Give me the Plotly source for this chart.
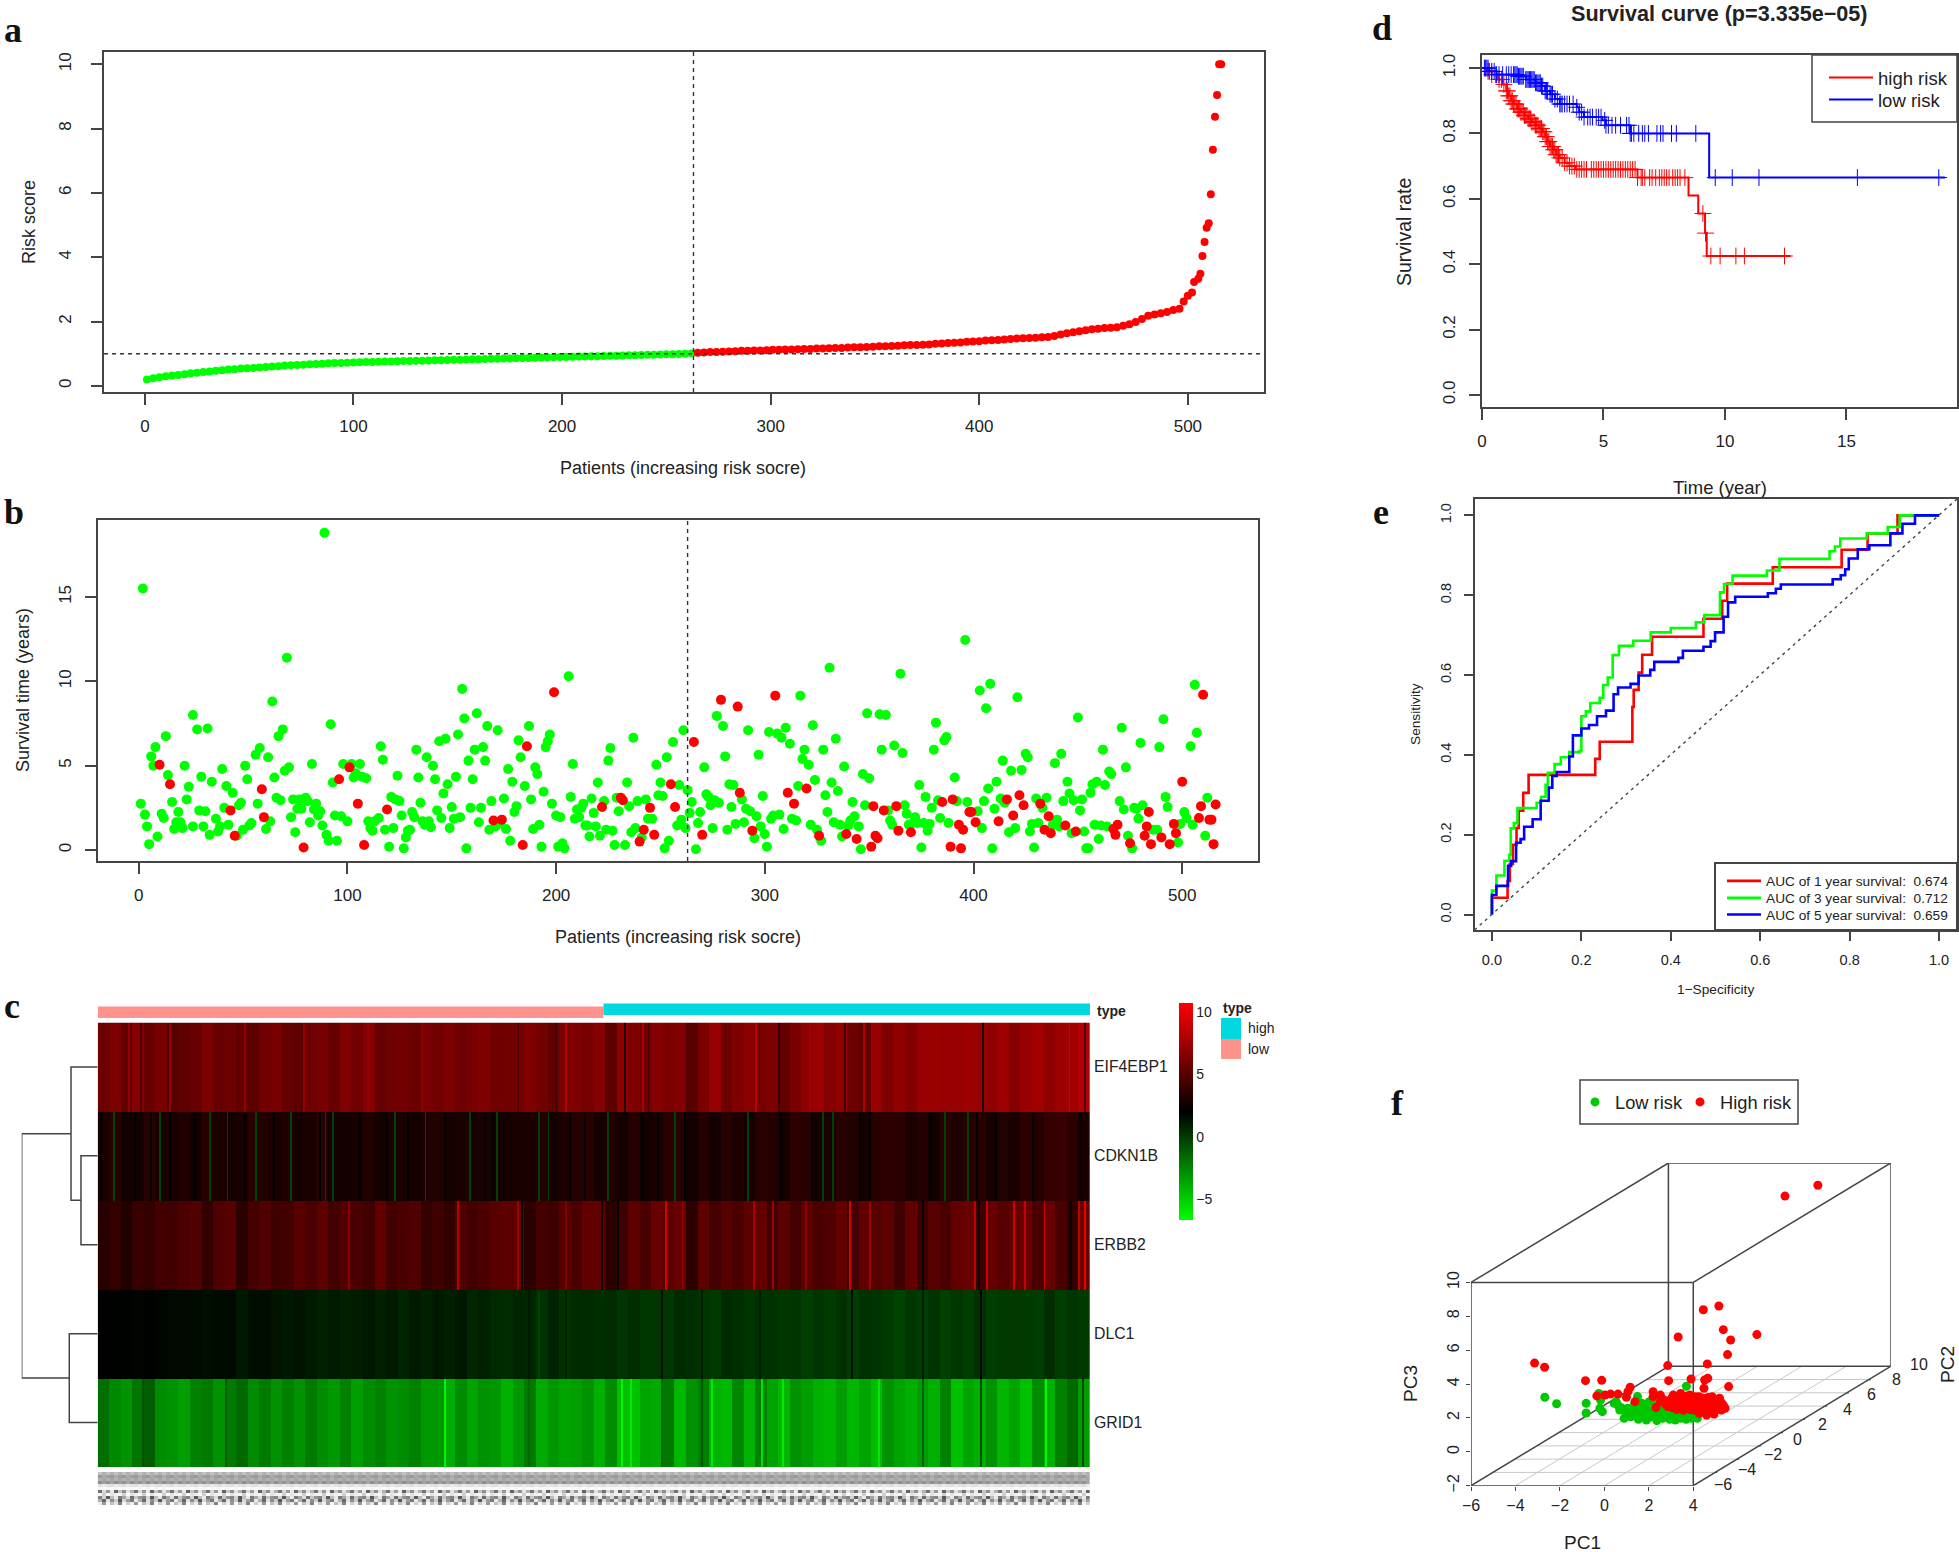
import numpy as np
import plotly.graph_objects as go

W, H = 1959, 1552
FONT = "Liberation Sans"
INK = "#222222"
FRAME = "#444444"
RED = "#ff0000"
GREEN = "#00ff00"
BLUE = "#0000ff"

CUTOFF = 263

# ---------- panel a: risk score
risk_patients = [1,4,7,10,13,16,19,22,25,28,31,34,37,40,43,46,49,52,55,58,61,64,67,70,73,76,79,82,85,88,91,94,97,100,103,106,109,112,115,118,121,124,127,130,133,136,139,142,145,148,151,154,157,160,163,166,169,172,175,178,181,184,187,190,193,196,199,202,205,208,211,214,217,220,223,226,229,232,235,238,241,244,247,250,253,256,259,262,
 265,268,271,274,277,280,283,286,289,292,295,298,301,304,307,310,313,316,319,322,325,328,331,334,337,340,343,346,349,352,355,358,361,364,367,370,373,376,379,382,385,388,391,394,397,400,403,406,409,412,415,418,421,424,427,430,433,436,439,442,445,448,451,454,457,460,463,466,469,472,475,478,481,484,487,490,493,496,498,500,502,503,505,506,507,508,509,510,511,512,513,514,515,516]
risk_scores = [.20,.24,.27,.30,.32,.34,.36,.39,.41,.43,.45,.47,.49,.51,.52,.54,.55,.56,.57,.59,.60,.61,.63,.64,.65,.66,.67,.68,.69,.70,.71,.715,.72,.73,.735,.74,.745,.75,.755,.76,.765,.77,.775,.78,.785,.79,.795,.80,.805,.81,.815,.82,.825,.83,.835,.84,.845,.85,.855,.86,.865,.87,.875,.88,.885,.89,.895,.90,.905,.91,.915,.92,.925,.93,.935,.94,.945,.95,.955,.96,.965,.97,.975,.98,.985,.99,1.0,1.01,
 1.03,1.04,1.05,1.05,1.06,1.07,1.08,1.09,1.09,1.10,1.10,1.11,1.12,1.12,1.13,1.13,1.14,1.15,1.15,1.16,1.16,1.17,1.18,1.18,1.19,1.20,1.20,1.21,1.22,1.23,1.23,1.24,1.25,1.26,1.27,1.27,1.28,1.29,1.31,1.32,1.33,1.34,1.35,1.37,1.38,1.39,1.41,1.42,1.43,1.44,1.46,1.47,1.48,1.49,1.50,1.51,1.52,1.55,1.60,1.64,1.67,1.70,1.73,1.76,1.78,1.80,1.81,1.82,1.87,1.92,1.99,2.08,2.18,2.22,2.26,2.30,2.36,2.40,2.62,2.80,2.90,3.23,3.33,3.49,4.04,4.47,4.92,5.06,5.96,7.34,8.37,9.04,10.0,10.0]

# ---------- panel b: survival time
alive_patients = [2,1,3,4,5,6,7,8,9,11,12,13,14,16,17,18,19,20,21,22,23,24,26,26,28,29,30,31,32,33,34,35,37,38,39,40,41,42,43,45,47,48,49,50,51,52,53,54,56,57,58,61,62,63,64,65,66,67,68,69,70,71,72,73,74,75,76,77,78,80,81,82,83,84,85,86,87,88,89,90,91,92,93,94,95,97,98,100,102,103,104,106,107,109,110,111,112,113,115,116,117,118,120,121,122,123,124,125,126,127,128,129,130,131,132,133,134,135,136,137,138,139,140,141,142,143,144,145,146,147,148,149,150,151,152,153,154,155,156,157,158,159,160,161,162,163,164,165,166,167,168,169,171,172,173,175,176,177,178,179,180,181,182,183,185,187,188,189,190,191,192,193,194,195,196,197,198,200,201,202,203,204,206,207,208,209,210,211,212,213,214,215,216,217,218,219,220,221,223,224,225,226,227,228,229,230,233,234,235,236,237,238,239,241,243,244,246,248,249,250,251,252,253,254,256,258,259,260,261,262,263,264,265,267,268,
 269,271,272,273,274,275,276,277,278,280,281,282,283,284,285,286,289,290,291,292,293,295,296,297,298,299,300,301,302,303,304,306,307,308,309,310,312,313,315,316,317,318,319,321,322,323,324,325,327,328,329,330,331,332,333,334,335,336,337,338,340,341,342,343,345,346,347,348,349,350,355,356,358,359,360,361,362,365,366,367,368,369,371,372,373,374,375,376,377,378,379,380,381,382,383,384,386,387,388,391,392,396,397,402,403,404,405,406,407,408,409,410,411,413,414,415,417,418,420,421,423,425,426,427,428,429,430,431,433,435,438,439,440,441,442,443,445,446,447,448,450,451,452,453,454,455,456,457,458,459,460,461,462,463,464,465,466,470,471,472,473,474,476,477,478,479,480,481,486,488,489,491,492,493,498,499,501,502,504,505,506,507,511,512]
alive_times = [15.5,2.75,2.1,1.4,.35,5.55,5.0,6.1,.8,2.15,1.9,6.75,4.45,2.85,1.25,1.65,2.25,1.65,1.3,5.0,3.0,3.75,1.4,8.0,7.15,2.35,4.35,1.4,2.3,7.2,.9,4.05,1.85,1.1,1.4,4.8,2.5,3.8,1.5,3.4,.85,2.65,2.8,1.2,5.0,4.2,1.45,1.6,5.65,2.75,6.05,1.25,5.5,1.7,8.8,4.3,3.1,6.75,2.95,7.15,4.7,11.4,4.9,1.95,3.0,1.05,2.45,3.0,2.45,3.1,2.9,1.65,5.1,2.4,2.75,2.05,2.3,1.45,18.8,.9,.55,7.45,4.0,2.05,.55,2.0,5.1,1.7,5.1,4.3,4.55,5.1,4.35,4.25,1.7,1.3,1.15,1.7,1.9,6.15,5.35,1.2,.2,3.15,1.3,3.0,4.4,2.9,2.05,.1,.75,1.15,1.2,2.25,1.95,5.95,4.3,2.8,1.7,1.5,5.5,1.7,1.35,5.0,4.2,2.35,6.45,1.9,3.35,6.6,3.9,1.3,2.55,1.85,4.35,6.85,1.95,9.55,7.8,.1,5.3,2.5,4.2,5.95,8.1,1.65,2.5,6.1,5.3,7.35,1.2,2.9,1.4,7.1,1.6,3.05,1.25,4.8,.55,4.05,2.25,2.6,6.5,5.5,3.8,7.35,3.0,1.25,4.9,4.5,1.5,.2,3.45,6.1,6.45,6.85,2.75,2.05,.2,1.95,.4,.1,10.3,3.15,5.1,1.85,2.4,1.95,2.5,2.75,1.45,1.45,.8,3.05,2.2,1.4,4.0,.85,2.9,1.2,5.3,6.05,1.15,.3,3.1,2.3,.3,4.0,2.6,1.05,6.65,1.3,2.9,.75,3.0,1.85,1.85,5.05,3.25,4.0,3.2,.1,5.5,.55,6.4,1.45,3.85,1.8,7.1,1.3,3.55,2.2,2.85,.05,1.6,
 2.25,4.9,3.3,3.15,2.65,1.3,2.95,7.95,2.8,7.35,5.55,1.2,3.9,2.55,3.85,1.55,3.0,1.65,2.45,7.1,2.3,.7,2.0,5.65,1.4,3.2,.95,.2,7.0,1.85,2.05,6.9,2.1,6.65,1.25,7.25,6.3,1.85,1.75,3.8,9.15,5.4,5.95,5.05,1.5,7.4,4.15,1.2,.55,5.95,3.25,2.25,10.8,4.0,1.65,6.6,3.5,1.5,.8,4.95,1.45,1.75,2.85,2.0,1.4,.05,4.5,2.65,8.1,4.25,8.05,5.95,8.0,2.35,1.75,1.5,6.2,10.45,5.75,2.65,2.15,1.5,1.6,1.95,1.6,3.85,.15,1.6,3.15,1.15,1.55,2.5,5.95,7.55,2.95,1.9,6.5,6.7,1.6,4.3,2.9,12.45,2.85,2.3,9.45,1.3,2.9,8.4,3.65,9.85,.1,2.45,4.05,3.05,5.3,2.8,1.05,4.7,1.3,9.05,4.75,5.7,5.5,1.1,1.55,.15,3.05,1.6,2.5,3.1,1.5,5.15,1.8,1.4,5.7,2.9,4.05,3.35,1.0,2.95,7.85,2.35,3.0,1.1,.1,.1,3.4,3.9,1.5,4.05,.65,1.45,5.95,3.85,1.4,4.65,4.5,2.9,7.25,2.4,4.9,.85,.1,2.5,2.45,1.85,6.35,2.65,1.2,1.2,6.1,7.75,3.15,2.55,.45,1.55,2.25,1.9,6.15,1.5,9.8,6.95,.85,3.1]
dead_patients = [10,15,44,46,59,60,79,96,101,105,108,119,170,174,184,186,199,222,231,232,240,242,245,247,255,257,266,270,279,287,288,294,305,311,314,320,326,339,344,351,352,353,354,357,363,364,370,385,389,390,393,394,395,398,399,401,412,416,419,422,424,432,434,436,437,444,449,467,468,469,475,482,483,484,485,490,494,496,497,500,508,509,510,513,514,515,516]
dead_times = [5.05,3.9,2.35,.85,3.6,1.95,.15,4.2,4.9,2.75,.3,2.4,1.75,1.8,.3,6.15,9.35,2.55,3.1,2.95,.5,1.2,2.5,.9,3.9,2.55,6.4,.9,8.9,8.5,3.4,1.15,9.15,3.4,2.75,3.65,.85,.95,.65,.2,2.6,.85,.7,2.35,2.6,1.15,1.05,2.85,.2,3.0,1.5,.1,1.2,2.25,2.25,1.65,1.7,3.0,2.05,3.25,2.65,2.75,1.2,2.0,1.0,1.45,1.1,1.25,.9,1.5,.4,.85,1.4,2.25,.35,.75,.35,1.55,1.0,4.05,1.9,2.6,9.2,1.8,1.8,.35,2.7]

# ---------- panel c: heatmap, background level per six patients
genes = ["EIF4EBP1", "CDKN1B", "ERBB2", "DLC1", "GRID1"]
PATIENTS_PER_GROUP = 6
eif4ebp1 = [5.8,6.3,5.4,6.6,5.6,6.2,5.0,5.2,5.6,6.3,5.6,5.8,5.4,5.2,6.0,6.2,5.5,5.2,5.8,6.2,5.6,6.4,6.0,6.6,5.6,5.8,6.0,5.7,6.2,
            6.0,6.3,5.8,6.2,6.4,5.9,6.0,6.1,6.4,6.0,5.4,6.3,6.4,6.1,6.6,5.2,7.0,6.4,6.0,6.6,6.3,6.5,5.0,6.3,7.2,5.8,6.4,6.8,6.1,
            6.4,5.4,6.2,6.8,7.4,6.6,7.0,5.8,5.4,7.2,6.4,7.0,6.5,7.2,7.3,7.2,7.2,7.4,7.3,7.0,7.4,6.6,7.2,7.6,7.0,7.4,7.6,8.2]
cdkn1b = [3.0,3.4,2.8,2.8,3.4,3.0,2.9,3.2,2.8,3.4,3.0,2.8,2.9,3.4,3.2,3.0,3.2,2.8,3.0,3.4,2.8,2.8,2.9,3.2,2.8,3.0,3.0,2.8,3.1,
          3.2,2.8,3.0,2.8,3.0,2.8,2.8,3.0,3.0,3.2,2.8,3.1,3.3,3.4,2.8,3.2,2.8,3.3,2.8,3.0,3.5,3.4,2.8,3.3,2.8,3.4,3.1,2.8,3.4,
          3.3,2.8,3.6,3.4,2.8,3.0,3.4,3.2,2.8,3.4,3.6,3.5,3.0,3.3,2.8,3.4,3.1,3.4,3.4,2.8,3.2,3.0,3.6,3.3,3.8,4.0,3.6,3.0]
erbb2 = [3.4,3.8,3.2,4.0,3.8,4.4,4.2,4.6,4.8,3.8,4.8,5.0,3.6,4.4,4.8,4.2,4.4,5.0,4.6,5.2,4.4,4.8,4.6,4.2,5.4,4.4,4.6,4.8,3.8,
         4.2,3.8,4.8,4.4,4.6,5.0,5.2,5.4,3.6,4.4,4.2,5.0,4.6,5.4,5.4,3.6,4.2,5.2,4.6,5.6,5.2,5.6,3.6,5.2,4.4,5.0,4.6,5.2,5.4,
         4.2,5.2,4.4,5.2,4.6,4.8,5.4,4.4,5.4,5.0,5.2,4.2,5.4,4.2,5.0,4.6,5.4,5.6,4.2,5.6,5.0,5.4,5.6,4.6,5.6,4.6,3.8,5.6]
dlc1 = [2.1,2.0,2.0,1.9,2.0,1.9,1.8,1.8,1.7,1.6,1.7,1.8,1.3,1.6,1.6,1.4,1.3,1.4,1.2,1.0,1.2,1.0,1.1,1.3,1.0,1.2,0.9,1.2,1.0,
        1.2,1.0,1.3,0.8,1.0,0.7,0.6,0.9,0.8,0.4,0.9,0.4,0.6,0.7,0.5,0.6,0.3,0.5,0.2,0.3,0.2,0.6,0.5,0.3,0.1,0.6,0.5,0.3,0.4,
        0.4,0.2,0.3,0.0,0.3,0.1,0.4,0.0,0.4,0.3,0.1,-0.2,0.2,0.0,0.3,-0.1,0.2,0.0,0.4,0.0,0.1,0.1,0.1,0.0,0.5,0.0,0.3,0.1]
grid1 = [-1.7,-2.5,-2.9,-1.9,-1.1,-2.7,-2.9,-3.3,-2.3,-2.1,-2.9,-2.1,-1.5,-2.7,-2.1,-2.9,-2.3,-2.9,-2.1,-2.7,-3.1,-2.3,-3.3,-2.7,-2.3,-2.9,-2.7,-2.3,-3.1,
         -3.1,-3.8,-2.7,-3.5,-2.9,-3.1,-3.9,-3.1,-2.1,-3.7,-3.1,-3.5,-3.3,-2.9,-3.9,-2.7,-4.4,-4.5,-3.5,-3.7,-2.0,-4.1,-2.9,-2.3,-4.0,-4.2,-2.5,-4.0,-2.3,
         -3.5,-4.1,-2.9,-3.3,-3.9,-4.1,-3.3,-4.1,-3.5,-4.3,-2.9,-3.5,-3.9,-3.3,-3.9,-2.3,-4.5,-3.5,-3.9,-2.9,-4.1,-3.5,-4.5,-2.7,-3.9,-2.3,-1.5,-3.3]

# narrow stripes read individually: (patient number, value) per gene
eif4ebp1_stripes = [(17,7.2),(23,4.6),(38,7.2),(77,7.2),(108,7.2),(141,7.2),(169,7.0),(219,4.5),(239,4.2),(244,8.2),(275,3.0),(284,8.0),(287,4.4),(343,8.4),(355,4.0),(371,7.8),(389,4.4),(399,8.0),(461,2.8),(506,9.2),(514,4.4)]
cdkn1b_stripes = [(9,-.2),(33,-.2),(59,-.2),(68,-.2),(83,-.2),(101,-.2),(119,-.2),(123,-.2),(155,-.2),(171,-.2),(194,-.2),(208,-.2),(230,-.2),(235,-.2),(266,-.2),(301,-.2),(339,-.2),(378,-.2),(383,-.2),(441,-.2),(453,-.2),
                  (2,2.1),(16,2.1),(20,2.1),(28,2.1),(38,2.1),(51,2.1),(77,2.1),(92,2.1),(116,2.1),(137,2.1),(151,2.1),(162,2.1),(181,2.1),(202,2.1),(206,2.1),(246,2.1),(254,2.1),(284,2.1),(292,2.1),(306,2.1),(356,2.1),(372,2.1),(397,2.1),(402,2.1),(434,2.1),(458,2.1),(468,2.1),(487,2.1),(512,2.1)]
erbb2_stripes = [(131,7.0),(188,8.4),(219,7.5),(221,2.6),(244,6.5),(263,2.6),(271,1.9),(296,9.5),(305,7.0),(342,8.0),(352,7.5),(369,7.0),(392,9.5),(402,7.5),(430,1.8),(457,8.5),(459,2.4),(463,9.0),(477,9.2),(483,9.0),(493,9.0),(507,2.4),(511,8.5),(514,10.0)]
dlc1_stripes = [(177,1.5),(225,1.2),(230,-.2),(244,1.1),(294,1.6),(315,1.2),(345,1.1),(393,1.7),(430,1.1),(460,2.0)]
grid1_stripes = [(24,-.8),(67,-1.0),(181,-6.2),(225,-1.5),(273,-6.4),(278,-6.0),(294,-1.6),(315,-.8),(320,-6.0),(346,-5.6),(357,-5.8),(407,-5.8),(430,-1.0),(460,-.5),(494,-6.4),(513,-.3)]
color_min, color_max = -6.6, 10.76
n_low, n_high = 263, 253

# dendrogram: merge heights and row positions (None breaks the line)
dendro_height = [0, .22, .22, 0, None, 0, .351, .351, .22, None, 0, .374, .374, 0, None, .351, 1, 1, .374]
dendro_row = [1.5, 1.5, 2.5, 2.5, None, .5, .5, 2, 2, None, 3.5, 3.5, 4.5, 4.5, None, 1.25, 1.25, 4, 4]

# unreadable sample-name strip below the heatmap: grey level per band
name_strip = [
    [165, 150], [130, 145, 135], [150, 140], [120, 135, 125, 140],
    [200, 215, 205], [235, 245],
    [95, 190, 130, 215, 80, 170, 120, 205, 150], [235, 180, 245, 205, 225],
    [110, 185, 70, 160, 215, 100, 140, 195, 90, 170, 125],
    [150, 85, 205, 120, 175, 70, 190, 135, 100, 215],
    [220, 130, 240, 165, 205, 110, 235, 180],
]

# ---------- panel d: survival curves
high_step_t = [0,.2,.4,.65,.85,1,1.1,1.2,1.3,1.45,1.6,1.75,1.9,2.05,2.2,2.35,2.5,2.6,2.7,2.8,2.95,3.05,3.2,3.4,3.6,3.85,6.4,8.5,8.9,9.18,9.25,12.7]
high_step_s = [1,.99,.98,.965,.95,.93,.915,.90,.89,.875,.865,.855,.845,.835,.825,.815,.805,.79,.775,.76,.75,.735,.725,.71,.70,.69,.665,.61,.555,.495,.425,.425]
low_step_t = [0,.3,.6,1.5,1.8,2.2,2.45,2.6,2.8,3.0,3.2,3.9,4.0,4.2,4.95,5.1,6.1,9.35,19.05]
low_step_s = [1,.99,.98,.975,.965,.955,.945,.93,.92,.905,.89,.88,.865,.85,.84,.825,.80,.665,.665]
high_censor_t = [.25,.4,.55,.7,.8,.9,1.0,1.05,1.1,1.15,1.2,1.25,1.3,1.35,1.4,1.45,1.5,1.55,1.6,1.65,1.7,1.75,1.8,1.85,1.9,1.95,2.0,2.05,2.1,2.15,2.2,2.25,2.3,2.35,2.4,2.45,2.5,2.55,2.6,2.65,2.7,2.75,2.8,2.85,2.9,2.95,3.0,3.05,3.1,3.15,3.2,3.3,3.4,3.5,3.6,3.7,3.8,3.9,4.0,4.1,4.2,4.3,4.5,4.6,4.7,4.8,4.9,5.0,5.1,5.2,5.3,5.4,5.5,5.6,5.7,5.8,5.9,6.0,6.1,6.2,6.3,6.4,6.55,6.6,6.7,6.9,7.0,7.15,7.3,7.4,7.5,7.6,7.7,7.85,7.95,8.05,8.15,8.35,9.09,9.2,9.42,9.8,10.45,10.8,12.45]
low_censor_t = [.1,.15,.2,.25,.3,.4,.5,.6,.7,.85,1.0,1.1,1.2,1.3,1.35,1.4,1.45,1.5,1.55,1.6,1.65,1.7,1.8,1.85,1.9,1.95,2.0,2.05,2.1,2.15,2.2,2.25,2.3,2.35,2.4,2.45,2.5,2.6,2.65,2.7,2.8,2.85,2.9,3.0,3.1,3.2,3.25,3.3,3.4,3.5,3.6,3.75,3.9,4.0,4.1,4.2,4.35,4.45,4.55,4.7,4.8,4.9,5.05,5.1,5.2,5.35,5.5,5.7,5.95,6.05,6.1,6.15,6.25,6.45,6.6,6.7,6.85,7.2,7.35,7.45,7.8,8.0,8.8,9.6,10.3,11.4,15.45,18.8]

# ---------- panel e: ROC curves
roc1_fpr = [0,0,.035,.04,.047,.055,.06,.07,.082,.231,.241,.314,.317,.328,.336,.358,.473,.515,.526,.628,.782,.84,.907,1]
roc1_tpr = [0,.042,.084,.127,.175,.217,.26,.305,.35,.39,.433,.52,.563,.606,.651,.696,.741,.786,.829,.87,.914,.955,1,1]
roc3_fpr = [0,0,.01,.028,.039,.042,.049,.057,.1,.11,.12,.125,.14,.154,.173,.196,.2,.21,.22,.241,.249,.259,.27,.284,.316,.355,.4,.456,.475,.51,.519,.538,.615,.643,.755,.767,.779,.838,.885,.912,1]
roc3_tpr = [0,.06,.098,.135,.15,.216,.229,.267,.28,.295,.325,.355,.377,.394,.407,.41,.497,.509,.53,.543,.575,.594,.65,.673,.686,.707,.718,.732,.75,.807,.828,.849,.862,.891,.91,.922,.942,.955,.971,1,1]
roc5_fpr = [0,0,.01,.036,.043,.054,.064,.072,.091,.109,.127,.135,.145,.173,.181,.2,.217,.235,.255,.272,.282,.31,.328,.354,.363,.417,.427,.473,.489,.499,.518,.528,.544,.617,.635,.646,.762,.78,.79,.798,.818,.844,.891,.918,.946,1]
roc5_tpr = [0,.049,.072,.122,.134,.18,.189,.22,.239,.285,.318,.347,.357,.396,.449,.466,.475,.497,.511,.552,.569,.578,.599,.613,.633,.643,.661,.671,.685,.707,.746,.782,.796,.805,.816,.827,.84,.85,.865,.892,.915,.925,.955,.979,1,1]

# ---------- panel f: principal components
low_pc1 = [-5.64,-5.11,-3.78,-3.78,-3.21,-3.13,-3.05,-3.16,-2.52,-2.35,-2.27,-2.07,-1.9,-1.77,-1.47,-1.43,-1.43,-1.27,-1.19,-1.07,-.94,-.85,-.69,-.6,-.52,-.36,-.19,-.02,.14,.23,.47,.72,.73,.97,1.22,-2.02,-1.68,-1.35,-1.02,-.77,-.44,-.27,.06,.31,.56,.81,1.06,-1.6,-1.1,-2.43,
           -1.9,-1.6,-1.5,-1.3,-1.2,-1,-.9,-.7,-.55,-.4,-.3,-.1,.1,.3,.5,.7,.9,-1.75,-2.2,-.8]
low_pc3 = [.87,.49,.51,-.06,1.1,.71,.02,.22,.51,.41,.12,-.37,.22,-.28,.91,.22,-.43,.51,-.08,-.47,.61,.02,.51,-.51,-.08,-.37,.12,-.43,-.18,-.47,-.37,-.43,1.52,-.37,-.37,.02,-.08,-.18,.12,-.24,.22,-.18,-.04,-.08,-.18,-.12,-.24,.51,.32,.61,
           -.15,.2,-.25,-.3,.3,-.2,-.3,.2,-.3,-.2,-.3,-.25,-.3,-.3,-.3,-.25,-.25,.1,.25,-.1]
low_pc2 = [-2] * len(low_pc1)
high_pc1 = [1.71,.23,-6.1,-5.65,-3.81,-3.08,-3.3,-2.93,-2.68,-2.35,-1.97,-1.8,-1.9,-1.58,-.77,-.64,-.77,-.44,-.11,-.07,.36,.94,1.49,2.19,2.39,2.72,3.9,2.58,1.67,1.55,1.69,2.63,1.52,-.27,-.11,.06,.14,.31,.47,.47,.64,.64,.81,.89,.97,1.14,1.14,1.31,1.31,1.47,1.55,1.64,1.72,1.89,1.89,1.97,2.14,2.22,2.3,2.39,2.47,.14,.39,.72,1.06,1.39,1.8,2.05,.23,-.44,.56,.89,1.22,1.64,1.97,
            -.2,0,.1,.25,.35,.55,.7,.75,.9,1.0,1.2,1.25,1.4,1.5,1.6,1.75,1.85,2.0,2.1,2.2,2.3,.05,.3,.6,1.0,1.3,1.7]
high_pc3 = [9.47,8.83,2.89,2.64,1.85,1.87,.95,1.0,1.06,1.06,.87,1.46,1.2,.61,1.2,.26,.91,1.0,2.74,1.85,4.43,1.95,6.04,6.26,4.86,4.25,4.57,3.39,2.84,1.89,1.99,1.5,1.4,.71,.32,.81,.41,.71,1.1,.32,.9,.51,.26,1.0,.61,.32,.9,.51,-.08,.81,.22,-.18,.61,.32,.9,-.12,.51,.81,.12,.41,.22,1.0,.51,.71,.12,.32,.12,.22,.32,.61,.81,.41,.71,.41,.61,
            .45,.55,.25,.5,.9,.6,.35,.95,.15,.75,.15,.55,.65,.45,.75,.15,.55,.7,.35,.2,.55,.7,.15,.1,.2,.9,.85]
high_pc2 = [8, 8] + [-2] * (len(high_pc1) - 2)
PC1_TICKS = [-6, -4, -2, 0, 2, 4]
PC2_TICKS = [-6, -4, -2, 0, 2, 4, 6, 8, 10]
PC3_TICKS = [-2, 0, 2, 4, 6, 8, 10]
PC2_MIN, PC2_MAX = -8, 10
PC1_MIN, PC1_MAX = -6, 4
PC3_MIN, PC3_MAX = -2, 10

# ======================================================================
def px_x(p): return p / W
def px_y(p): return 1 - p / H

def project(pc1, pc2, pc3):
    """Oblique projection of scatterplot3d."""
    pc1, pc2, pc3 = (np.asarray(v, float) for v in (pc1, pc2, pc3))
    return pc1 + (pc2 - PC2_MIN) * 0.4934, pc3 + (pc2 - PC2_MIN) * 0.3917

fig = go.Figure()
layout = dict(width=W, height=H, margin=dict(l=0, r=0, t=0, b=0, autoexpand=False), paper_bgcolor="white", plot_bgcolor="white",
              font=dict(family=FONT, color=INK), showlegend=True)
annotations, shapes = [], []

def text(px, py, s, size, angle=0, bold=False, anchor="center", family=FONT):
    annotations.append(dict(x=px_x(px), y=px_y(py), xref="paper", yref="paper", text=f"<b>{s}</b>" if bold else s,
                            showarrow=False, font=dict(size=size, family=family, color="#111111" if family != FONT else INK),
                            textangle=angle, xanchor=anchor, yanchor="middle"))

def box_axes(n, x0, x1, y0, y1, xr, yr, xticks, yticks, size=17, ticklen=11, xoff=7, yoff=7):
    sfx = "" if n == 1 else str(n)
    common = dict(showgrid=False, zeroline=False, showline=True, mirror=True, linecolor=FRAME, linewidth=1.5,
                  ticks="outside", tickcolor=FRAME, tickwidth=1.5, ticklen=ticklen, tickmode="array",
                  tickfont=dict(size=size, family=FONT, color=INK))
    layout["xaxis" + sfx] = dict(common, domain=[px_x(x0), px_x(x1)], range=xr, tickvals=xticks, anchor="y" + sfx, ticklabelstandoff=xoff)
    layout["yaxis" + sfx] = dict(common, domain=[px_y(y1), px_y(y0)], range=yr, tickvals=yticks, anchor="x" + sfx, tickangle=-90, ticklabelstandoff=yoff)

def hidden_axes(n, x0, x1, y0, y1, xr, yr):
    sfx = str(n)
    off = dict(visible=False, showgrid=False, zeroline=False)
    layout["xaxis" + sfx] = dict(off, domain=[px_x(x0), px_x(x1)], range=xr, anchor="y" + sfx)
    layout["yaxis" + sfx] = dict(off, domain=[px_y(y1), px_y(y0)], range=yr, anchor="x" + sfx)

def dot(x, y, color, size, xa, ya, **kw):
    fig.add_trace(go.Scatter(x=x, y=y, mode="markers", marker=dict(color=color, size=size), xaxis=xa, yaxis=ya,
                             showlegend=False, hoverinfo="skip", **kw))

def one_entry_legend(px, py, size, itemwidth):
    return dict(x=px_x(px), y=px_y(py), xanchor="left", yanchor="middle", bgcolor="rgba(0,0,0,0)",
                font=dict(size=size, family=FONT, color=INK), itemwidth=itemwidth)

DASH = dict(color="#333333", width=1.4, dash="4px,4px")

# ---------- a
box_axes(1, 104, 1264, 52, 392, [-19.6, 536.5], [-0.19, 10.38], [0, 100, 200, 300, 400, 500], [0, 2, 4, 6, 8, 10], yoff=13)
rp, rs = np.array(risk_patients), np.array(risk_scores)
dot(rp[rp <= CUTOFF], rs[rp <= CUTOFF], GREEN, 8, "x", "y")
dot(rp[rp > CUTOFF], rs[rp > CUTOFF], RED, 8, "x", "y")
shapes.append(dict(type="line", xref="x", yref="y domain", x0=CUTOFF, x1=CUTOFF, y0=0, y1=1, line=DASH))
shapes.append(dict(type="line", xref="x domain", yref="y", x0=0, x1=1, y0=1, y1=1, line=DASH))
text(683, 468, "Patients (increasing risk socre)", 18)
text(29, 222, "Risk score", 18, angle=-90)
text(2, 30, "a", 36, bold=True, anchor="left", family="Liberation Serif")

# ---------- b
box_axes(2, 98, 1258, 520, 861, [-19.5, 536.3], [-0.65, 19.56], [0, 100, 200, 300, 400, 500], [0, 5, 10, 15])
dot(alive_patients, alive_times, GREEN, 10, "x2", "y2")
dot(dead_patients, dead_times, RED, 10, "x2", "y2")
shapes.append(dict(type="line", xref="x2", yref="y2 domain", x0=CUTOFF, x1=CUTOFF, y0=0, y1=1, line=DASH))
text(678, 937, "Patients (increasing risk socre)", 18)
text(23, 690, "Survival time (years)", 18, angle=-90)
text(2, 512, "b", 36, bold=True, anchor="left", family="Liberation Serif")

# ---------- c
gene_groups = [eif4ebp1, cdkn1b, erbb2, dlc1, grid1]
gene_stripes = [eif4ebp1_stripes, cdkn1b_stripes, erbb2_stripes, dlc1_stripes, grid1_stripes]
heat_z = []
for groups, stripes in zip(gene_groups, gene_stripes):
    row = np.repeat(np.array(groups, float), PATIENTS_PER_GROUP)
    for patient, value in stripes:
        row[patient - 1] = value
    heat_z.append(row.tolist())
heat_x = np.arange(1, len(heat_z[0]) + 1) - .5
fig.add_trace(go.Heatmap(z=heat_z, x=heat_x, y=[.5, 1.5, 2.5, 3.5, 4.5], zmin=color_min, zmax=color_max,
                         colorscale=[[0, GREEN], [.5, "#000000"], [1, RED]], xaxis="x3", yaxis="y3", hoverinfo="skip",
                         colorbar=dict(thickness=14, thicknessmode="pixels", len=217, lenmode="pixels",
                                       x=px_x(1179), xanchor="left", xpad=0, y=px_y(1002.5), yanchor="top", ypad=0,
                                       outlinewidth=0, ticks="", tickvals=[10, 5, 0, -5], tickfont=dict(size=14, family=FONT, color=INK))))
layout["xaxis3"] = dict(domain=[px_x(97.7), px_x(1090)], range=[0, 516], visible=False, anchor="y3")
layout["yaxis3"] = dict(domain=[px_y(1467), px_y(1022.5)], range=[5, 0], tickmode="array", tickvals=[.5, 1.5, 2.5, 3.5, 4.5], ticktext=genes,
                        side="right", ticks="", showline=False, showgrid=False, zeroline=False, anchor="x3",
                        ticklabelstandoff=3, tickfont=dict(size=15.8, family=FONT, color=INK))
hidden_axes(4, 97.7, 1090, 1003.5, 1018, [0, 516], [0, 1])
fig.add_trace(go.Bar(x=[n_low], y=[.5], base=[0], width=1, orientation="h", marker=dict(color="#ff928a", line_width=0), xaxis="x4", yaxis="y4", showlegend=False, hoverinfo="skip"))
fig.add_trace(go.Bar(x=[n_high], y=[.5], base=[n_low], width=1, orientation="h", marker=dict(color="#00d8e0", line_width=0), xaxis="x4", yaxis="y4", showlegend=False, hoverinfo="skip"))
hidden_axes(5, 21.7, 97.7, 1022.5, 1467, [1, 0], [5, 0])
fig.add_trace(go.Scatter(x=dendro_height, y=dendro_row, mode="lines", line=dict(color=FRAME, width=1.5), xaxis="x5", yaxis="y5", showlegend=False, hoverinfo="skip"))
N_STRIP = 248
strip_z = [(pattern * N_STRIP)[:N_STRIP] for pattern in name_strip]
hidden_axes(6, 97.7, 1090, 1472, 1505, [-.5, N_STRIP - .5], [len(strip_z) - .5, -.5])
fig.add_trace(go.Heatmap(z=strip_z, zmin=0, zmax=255, colorscale="Greys_r", showscale=False, xaxis="x6", yaxis="y6", hoverinfo="skip"))
text(1095, 1011, "type", 14, bold=True, anchor="left")
text(1221, 1008, "type", 14, bold=True, anchor="left")
text(1246, 1028, "high", 14, anchor="left")
text(1246, 1049, "low", 14, anchor="left")
for y0, y1, c in [(1018, 1039, "#00d8e0"), (1039, 1059, "#ff928a")]:
    shapes.append(dict(type="rect", xref="paper", yref="paper", x0=px_x(1221), x1=px_x(1241), y0=px_y(y1), y1=px_y(y0), fillcolor=c, line_width=0))
text(2, 1006, "c", 36, bold=True, anchor="left", family="Liberation Serif")

# ---------- d
box_axes(7, 1482, 1957, 55, 407, [0, 19.55], [-.037, 1.04], [0, 5, 10, 15], [0, .2, .4, .6, .8, 1])
layout["yaxis7"]["ticktext"] = ["0.0", "0.2", "0.4", "0.6", "0.8", "1.0"]
def at_time(ts, ss, t):
    return np.array(ss)[np.searchsorted(ts, t, side="right") - 1]
cross = lambda c: dict(symbol="cross-thin", size=12, line=dict(color=c, width=1), color=c)
fig.add_trace(go.Scatter(x=high_step_t, y=high_step_s, mode="lines", line=dict(color=RED, width=2, shape="hv"), name="high risk", xaxis="x7", yaxis="y7", legend="legend", hoverinfo="skip"))
fig.add_trace(go.Scatter(x=low_step_t, y=low_step_s, mode="lines", line=dict(color=BLUE, width=2, shape="hv"), name="low risk", xaxis="x7", yaxis="y7", legend="legend6", hoverinfo="skip"))
fig.add_trace(go.Scatter(x=high_censor_t, y=at_time(high_step_t, high_step_s, high_censor_t), mode="markers", marker=cross(RED), xaxis="x7", yaxis="y7", showlegend=False, hoverinfo="skip"))
fig.add_trace(go.Scatter(x=low_censor_t, y=at_time(low_step_t, low_step_s, low_censor_t), mode="markers", marker=cross(BLUE), xaxis="x7", yaxis="y7", showlegend=False, hoverinfo="skip"))
shapes.append(dict(type="rect", xref="paper", yref="paper", layer="above", x0=px_x(1812), x1=px_x(1957), y0=px_y(122), y1=px_y(55), line=dict(color=FRAME, width=1.5)))
layout["legend"] = one_entry_legend(1824, 78, 18.5, 44)
layout["legend6"] = one_entry_legend(1824, 100, 18.5, 44)
text(1719, 14, "Survival curve (p=3.335e−05)", 21.6, bold=True)
text(1720, 487, "Time (year)", 18.5)
text(1404, 232, "Survival rate", 19.5, angle=-90)
text(1370, 28, "d", 36, bold=True, anchor="left", family="Liberation Serif")

# ---------- e
box_axes(8, 1474.5, 1957, 499, 930, [-.039, 1.04], [-.0386, 1.041], [0, .2, .4, .6, .8, 1], [0, .2, .4, .6, .8, 1], size=14.5, ticklen=9)
for ax in ("xaxis8", "yaxis8"):
    layout[ax]["ticktext"] = ["0.0", "0.2", "0.4", "0.6", "0.8", "1.0"]
    layout[ax]["linewidth"] = 2
fig.add_trace(go.Scatter(x=[-.039, 1.04], y=[-.0386, 1.041], mode="lines", line=dict(color="#444444", width=1.4, dash="3px,4px"), xaxis="x8", yaxis="y8", showlegend=False, hoverinfo="skip"))
for fpr, tpr, col, year, auc, leg, row_y in [(roc1_fpr, roc1_tpr, RED, 1, "0.674", "legend2", 881), (roc3_fpr, roc3_tpr, GREEN, 3, "0.712", "legend4", 898), (roc5_fpr, roc5_tpr, BLUE, 5, "0.659", "legend5", 914.6)]:
    fig.add_trace(go.Scatter(x=fpr, y=tpr, mode="lines", line=dict(color=col, width=2.6, shape="hv"), name=f"AUC of {year} year survival:  {auc}",
                             xaxis="x8", yaxis="y8", legend=leg, hoverinfo="skip"))
    layout[leg] = one_entry_legend(1722, row_y, 13.7, 34)
shapes.append(dict(type="rect", xref="paper", yref="paper", layer="above", x0=px_x(1715), x1=px_x(1957), y0=px_y(930), y1=px_y(863), line=dict(color=FRAME, width=2)))
text(1715, 990, "1−Specificity", 13.7)
text(1416, 714, "Sensitivity", 13.7, angle=-90)
text(1371, 512, "e", 36, bold=True, anchor="left", family="Liberation Serif")

# ---------- f
SX_RANGE = [PC1_MIN, float(project(PC1_MAX, PC2_MAX, 0)[0])]
SY_RANGE = [PC3_MIN, float(project(0, PC2_MAX, PC3_MAX)[1])]
layout["xaxis9"] = dict(domain=[px_x(1471), px_x(1890.7)], range=SX_RANGE, tickmode="array", tickvals=PC1_TICKS, showgrid=False, zeroline=False, showline=False,
                        ticks="outside", ticklen=4, tickcolor=FRAME, anchor="y9", tickfont=dict(size=16, family=FONT, color=INK), ticklabelstandoff=1)
layout["yaxis9"] = dict(domain=[px_y(1485.7), px_y(1163)], range=SY_RANGE, tickmode="array", tickvals=PC3_TICKS, showgrid=False, zeroline=False, showline=False,
                        ticks="outside", ticklen=4, tickcolor=FRAME, tickangle=-90, anchor="x9", tickfont=dict(size=16, family=FONT, color=INK), ticklabelstandoff=1)

def segments(pairs):
    xs, ys = [], []
    for a, b in pairs:
        p = project(*a); q = project(*b)
        xs += [float(p[0]), float(q[0]), None]; ys += [float(p[1]), float(q[1]), None]
    return xs, ys

floor = [((v, PC2_MIN, PC3_MIN), (v, PC2_MAX, PC3_MIN)) for v in PC1_TICKS[1:-1]] + \
        [((PC1_MIN, v, PC3_MIN), (PC1_MAX, v, PC3_MIN)) for v in PC2_TICKS[:-1]]
gx, gy = segments(floor)
fig.add_trace(go.Scatter(x=gx, y=gy, mode="lines", line=dict(color="#c8c8c8", width=1), xaxis="x9", yaxis="y9", showlegend=False, hoverinfo="skip"))
edges = []
for p2 in (PC2_MIN, PC2_MAX):
    edges += [((PC1_MIN, p2, PC3_MIN), (PC1_MAX, p2, PC3_MIN)), ((PC1_MIN, p2, PC3_MAX), (PC1_MAX, p2, PC3_MAX)),
              ((PC1_MIN, p2, PC3_MIN), (PC1_MIN, p2, PC3_MAX)), ((PC1_MAX, p2, PC3_MIN), (PC1_MAX, p2, PC3_MAX))]
for p1 in (PC1_MIN, PC1_MAX):
    for p3 in (PC3_MIN, PC3_MAX):
        edges.append(((p1, PC2_MIN, p3), (p1, PC2_MAX, p3)))
ex, ey = segments(edges)
fig.add_trace(go.Scatter(x=ex, y=ey, mode="lines", line=dict(color=FRAME, width=1.5), xaxis="x9", yaxis="y9", showlegend=False, hoverinfo="skip"))
tx, ty = segments([((PC1_MAX, v, PC3_MIN), (PC1_MAX + .09, v, PC3_MIN)) for v in PC2_TICKS])
fig.add_trace(go.Scatter(x=tx, y=ty, mode="lines", line=dict(color=FRAME, width=1.2), xaxis="x9", yaxis="y9", showlegend=False, hoverinfo="skip"))
lx, ly = project(low_pc1, low_pc2, low_pc3)
hx, hy = project(high_pc1, high_pc2, high_pc3)
fig.add_trace(go.Scatter(x=lx, y=ly, mode="markers", marker=dict(color="#00c800", size=9), name="Low risk", xaxis="x9", yaxis="y9", legend="legend3", hoverinfo="skip"))
fig.add_trace(go.Scatter(x=hx, y=hy, mode="markers", marker=dict(color=RED, size=9), name="High risk", xaxis="x9", yaxis="y9", legend="legend7", hoverinfo="skip"))
shapes.append(dict(type="rect", xref="paper", yref="paper", layer="above", x0=px_x(1580), x1=px_x(1798), y0=px_y(1124), y1=px_y(1080), line=dict(color=FRAME, width=1.5)))
layout["legend3"] = one_entry_legend(1575, 1102, 18.3, 30)
layout["legend7"] = one_entry_legend(1680, 1102, 18.3, 30)
pc2_labels = [(-6, 1723.4, 1484), (-4, 1747.4, 1469), (-2, 1773.2, 1454), (0, 1797.2, 1439), (2, 1822, 1424), (4, 1847, 1409), (6, 1871, 1394), (8, 1896, 1379), (10, 1919, 1364)]
for v, px, py in pc2_labels:
    text(px, py, str(v).replace("-", "−"), 16)
text(1582, 1542, "PC1", 19)
text(1410, 1384, "PC3", 19, angle=-90)
text(1947, 1365, "PC2", 19, angle=-90)
text(1389, 1103, "f", 36, bold=True, anchor="left", family="Liberation Serif")

layout["annotations"] = annotations
layout["shapes"] = shapes
fig.update_layout(**layout)
fig.write_html("out.html", config={"displayModeBar": False},
               post_script="document.body.style.margin='0';document.body.style.padding='0';")
